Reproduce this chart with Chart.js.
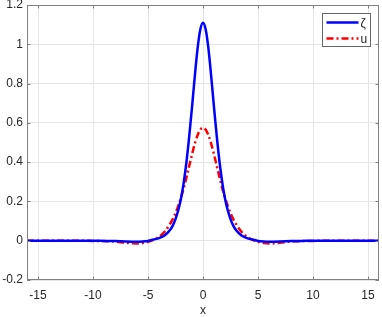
<!DOCTYPE html>
<html>
<head>
<meta charset="utf-8">
<script src="https://cdn.jsdelivr.net/npm/chart.js@4/dist/chart.umd.min.js"></script>
<style>
  html, body { margin: 0; padding: 0; background: #fff; }
  #wrap { width: 382px; height: 317px; }
</style>
</head>
<body>
<div id="wrap"><canvas id="solitonChart" width="382" height="317"></canvas></div>
<script>
// data

const xValues = [
  -16, -14, -12, -10, -9, -8, -7, -6, -5.5, -5, -4.5, -4, -3.5, -3, -2.75, -2.5, -2.25, -2, -1.75, -1.5, -1.25, -1, -0.75, -0.5, -0.25,
  0,
  0.25, 0.5, 0.75, 1, 1.25, 1.5, 1.75, 2, 2.25, 2.5, 2.75, 3, 3.5, 4, 4.5, 5, 5.5, 6, 7, 8, 9, 10, 12, 14, 16
];

const zetaValues = [
  0, 0, 0, 0, -0.001, -0.002, -0.004, -0.005, -0.004, -0.001, 0.006, 0.013, 0.026, 0.054, 0.077, 0.110, 0.155, 0.215, 0.297, 0.402, 0.532, 0.679, 0.834, 0.975, 1.074,
  1.11,
  1.074, 0.975, 0.834, 0.679, 0.532, 0.402, 0.297, 0.215, 0.155, 0.110, 0.077, 0.054, 0.026, 0.013, 0.006, -0.001, -0.004, -0.005, -0.004, -0.002, -0.001, 0, 0, 0, 0
];

const uValues = [
  0, 0, 0, -0.001, -0.002, -0.004, -0.011, -0.014, -0.012, -0.006, 0.004, 0.020, 0.045, 0.085, 0.110, 0.140, 0.177, 0.220, 0.268, 0.323, 0.381, 0.439, 0.493, 0.536, 0.565,
  0.575,
  0.565, 0.536, 0.493, 0.439, 0.381, 0.323, 0.268, 0.220, 0.177, 0.140, 0.110, 0.085, 0.045, 0.020, 0.004, -0.006, -0.012, -0.014, -0.011, -0.004, -0.002, -0.001, 0, 0, 0
];

const seriesLabels = ["ζ", "u"];
const xTicks = [-15, -10, -5, 0, 5, 10, 15];
const yTicks = [-0.2, 0, 0.2, 0.4, 0.6, 0.8, 1, 1.2];

const fontFamily = "'Liberation Sans', Arial, sans-serif";
const axisColor = "#808080";
const textColor = "#262626";

// boite autour des axes, petites graduations vers l'interieur, legende

const boxPlugin = {
  id: "boxPlugin",
  afterDraw(chart) {
    const { ctx, chartArea: a, scales } = chart;
    const tl = 3.5;
    ctx.save();
    ctx.strokeStyle = axisColor;
    ctx.lineWidth = 1;
    ctx.strokeRect(a.left + 0.5, a.top + 0.5, a.right - a.left - 1, a.bottom - a.top - 1);

    ctx.beginPath();
    xTicks.forEach((v) => {
      const px = Math.round(scales.x.getPixelForValue(v)) + 0.5;
      ctx.moveTo(px, a.bottom);
      ctx.lineTo(px, a.bottom - tl);
      ctx.moveTo(px, a.top);
      ctx.lineTo(px, a.top + tl);
    });
    yTicks.forEach((v) => {
      const py = Math.round(scales.y.getPixelForValue(v)) + 0.5;
      ctx.moveTo(a.left, py);
      ctx.lineTo(a.left + tl, py);
      ctx.moveTo(a.right, py);
      ctx.lineTo(a.right - tl, py);
    });
    ctx.stroke();

    // legende
    const bx = 322.5, by = 13.5, bw = 48, bh = 33;
    ctx.fillStyle = "#ffffff";
    ctx.fillRect(bx, by, bw, bh);
    ctx.strokeStyle = "#666666";
    ctx.strokeRect(bx, by, bw, bh);

    chart.data.datasets.forEach((ds, i) => {
      const ly = by + 9 + i * 16;
      ctx.beginPath();
      ctx.strokeStyle = ds.borderColor;
      ctx.lineWidth = ds.borderWidth;
      ctx.setLineDash(ds.borderDash || []);
      ctx.moveTo(bx + 4, ly);
      ctx.lineTo(bx + 36, ly);
      ctx.stroke();
      ctx.setLineDash([]);
      ctx.fillStyle = textColor;
      ctx.font = "12px " + fontFamily;
      ctx.textBaseline = "middle";
      ctx.textAlign = "left";
      ctx.fillText(ds.label, bx + 38, ly + 1);
    });
    ctx.restore();
  }
};

const canvas = document.querySelector("#solitonChart");

new Chart(canvas.getContext("2d"), {
  type: "line",
  data: {
    labels: xValues,
    datasets: [
      {
        label: seriesLabels[0],
        data: xValues.map((x, i) => ({ x, y: zetaValues[i] })),
        borderColor: "#0000ff",
        borderWidth: 2.5,
        pointRadius: 0,
        cubicInterpolationMode: "monotone",
        fill: false
      },
      {
        label: seriesLabels[1],
        data: xValues.map((x, i) => ({ x, y: uValues[i] })),
        borderColor: "#ff0000",
        borderWidth: 2.5,
        borderDash: [7, 3, 2, 3],
        pointRadius: 0,
        cubicInterpolationMode: "monotone",
        fill: false
      }
    ]
  },
  options: {
    responsive: false,
    animation: false,
    layout: { padding: { left: 0, right: 3, top: 5, bottom: 0 } },
    plugins: {
      legend: { display: false },
      tooltip: { enabled: false }
    },
    scales: {
      x: {
        type: "linear",
        min: -16,
        max: 16,
        afterBuildTicks: (scale) => { scale.ticks = xTicks.map((v) => ({ value: v })); },
        afterFit: (scale) => {
          scale.height = 37;
          scale.paddingLeft = 0;
          scale.paddingRight = 0;
        },
        ticks: {
          color: textColor,
          padding: 8,
          maxRotation: 0,
          font: { family: fontFamily, size: 12 },
          callback: (v) => String(v)
        },
        grid: { color: "#e6e6e6", drawTicks: false },
        border: { display: false },
        title: {
          display: true,
          text: "x",
          color: textColor,
          padding: { top: 0, bottom: 0 },
          font: { family: fontFamily, size: 12, lineHeight: 1 }
        }
      },
      y: {
        type: "linear",
        min: -0.2,
        max: 1.2,
        afterBuildTicks: (scale) => { scale.ticks = yTicks.map((v) => ({ value: v })); },
        afterFit: (scale) => {
          scale.width = 27;
          scale.paddingTop = 0;
          scale.paddingBottom = 0;
        },
        ticks: {
          color: textColor,
          padding: 4,
          font: { family: fontFamily, size: 12 },
          callback: (v) => String(Math.round(v * 10) / 10)
        },
        grid: { color: "#e6e6e6", drawTicks: false },
        border: { display: false }
      }
    }
  },
  plugins: [boxPlugin]
});
</script>
</body>
</html>
